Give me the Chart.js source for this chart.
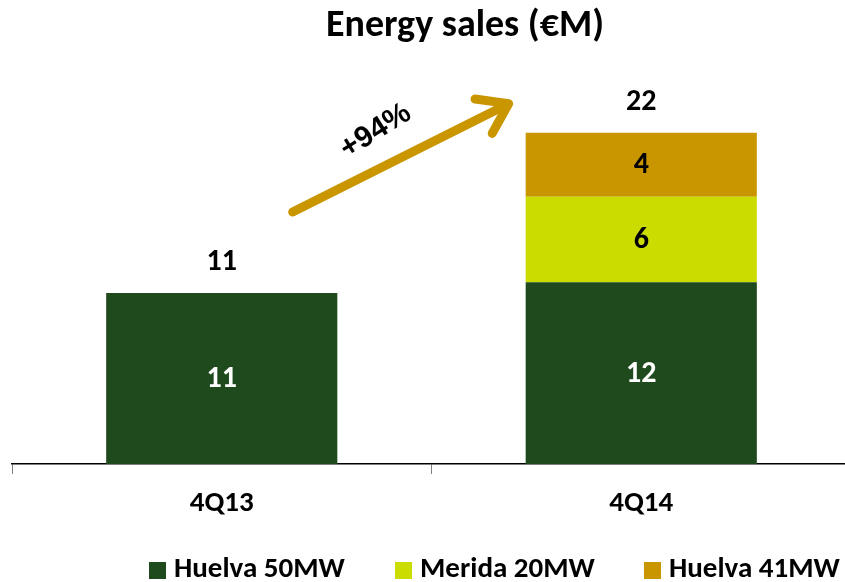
<!DOCTYPE html>
<html>
<head>
<meta charset="utf-8">
<script src="https://cdn.jsdelivr.net/npm/chart.js@4/dist/chart.umd.min.js"></script>
<style>
  html, body { margin: 0; padding: 0; background: #ffffff; overflow: hidden; }
  #wrap { width: 845px; height: 582px; overflow: hidden; position: relative; }
  canvas { display: block; }
</style>
</head>
<body>
<div id="wrap"><canvas id="c" width="857" height="582"></canvas></div>
<script>
// ---- data ----
const categories = ['4Q13', '4Q14'];
const seriesNames = ['Huelva 50MW', 'Merida 20MW', 'Huelva 41MW'];
const huelva50 = [11.2, 11.9];
const merida20 = [0, 5.6];
const huelva41 = [0, 4.2];
const titleText = 'Energy sales (€M)';
const growthLabel = '+94%';
const yMax = 26;

const colors = ['#1F4A1D', '#CBDC00', '#C99600'];
const labelColors = ['#ffffff', '#000000', '#000000'];
const FONT = "Carlito, Lato, 'Liberation Sans', sans-serif";

const overlay = {
  id: 'overlay',
  afterDatasetsDraw(chart) {
    const ctx = chart.ctx;
    const xs = chart.scales.x, ys = chart.scales.y;
    ctx.save();
    // segment labels
    ctx.textAlign = 'center';
    ctx.textBaseline = 'middle';
    ctx.font = "bold 30px " + FONT;
    chart.data.datasets.forEach((ds, di) => {
      const meta = chart.getDatasetMeta(di);
      meta.data.forEach((bar, i) => {
        const v = ds.data[i];
        if (!v) return;
        ctx.fillStyle = labelColors[di];
        ctx.fillText(String(Math.round(v)), bar.x, (bar.y + bar.base) / 2 + 1);
      });
    });
    // totals
    categories.forEach((c, i) => {
      let total = 0;
      chart.data.datasets.forEach(ds => total += (ds.data[i] || 0));
      ctx.fillStyle = '#000000';
      ctx.fillText(String(Math.round(total)), xs.getPixelForValue(i), ys.getPixelForValue(total) - 30);
    });
    // growth arrow (positioned in scale units)
    const tx = xs.getPixelForValue(0.169), ty = ys.getPixelForValue(16.5);
    const hx = xs.getPixelForValue(0.684), hy = ys.getPixelForValue(23.6);
    const ang = Math.atan2(hy - ty, hx - tx);
    ctx.strokeStyle = '#C99600';
    ctx.lineWidth = 9;
    ctx.lineCap = 'round';
    ctx.lineJoin = 'round';
    ctx.beginPath();
    ctx.moveTo(tx, ty);
    ctx.lineTo(hx - 4 * Math.cos(ang), hy - 4 * Math.sin(ang));
    ctx.stroke();
    const wing = 34, spread = 0.6;
    ctx.beginPath();
    ctx.moveTo(hx - wing * Math.cos(ang - spread), hy - wing * Math.sin(ang - spread));
    ctx.lineTo(hx, hy);
    ctx.lineTo(hx - wing * Math.cos(ang + spread), hy - wing * Math.sin(ang + spread));
    ctx.stroke();
    // growth label
    ctx.save();
    ctx.translate(xs.getPixelForValue(0.367), ys.getPixelForValue(21.8));
    ctx.rotate(-32 * Math.PI / 180);
    ctx.font = "bold 30px 'Liberation Sans', Arial, sans-serif";
    ctx.fillStyle = '#000000';
    ctx.fillText(growthLabel, 0, 0);
    ctx.restore();
    ctx.restore();
  },
  afterDraw(chart) {
    const ctx = chart.ctx;
    ctx.save();
    // title
    ctx.fillStyle = '#000000';
    ctx.font = "bold 38px " + FONT;
    ctx.textAlign = 'center';
    ctx.textBaseline = 'middle';
    ctx.fillText(titleText, 465, 26);
    // legend
    const starts = [149, 395, 644];
    ctx.font = "bold 29px " + FONT;
    ctx.textAlign = 'left';
    chart.data.datasets.forEach((ds, di) => {
      const x = starts[di];
      ctx.fillStyle = ds.backgroundColor;
      ctx.fillRect(x, 562, 17, 17);
      ctx.fillStyle = '#000000';
      ctx.fillText(ds.label, x + 25, 570);
    });
    ctx.restore();
  }
};

new Chart(document.getElementById('c'), {
  type: 'bar',
  data: {
    labels: categories,
    datasets: [
      { label: seriesNames[0], data: huelva50, backgroundColor: colors[0] },
      { label: seriesNames[1], data: merida20, backgroundColor: colors[1] },
      { label: seriesNames[2], data: huelva41, backgroundColor: colors[2] }
    ]
  },
  options: {
    responsive: false,
    animation: false,
    devicePixelRatio: 1,
    layout: { padding: { left: 12, right: 6, top: 67, bottom: 0 } },
    datasets: { bar: { barPercentage: 0.551, categoryPercentage: 1 } },
    plugins: { legend: { display: false }, title: { display: false }, tooltip: { enabled: false } },
    scales: {
      x: {
        stacked: true,
        afterFit: (s) => { s.height = 118; },
        grid: { offset: true, drawOnChartArea: false, tickLength: 10, color: '#808080', lineWidth: 1 },
        border: { display: true, color: '#000000', width: 1.5 },
        ticks: { color: '#000000', font: { family: FONT, size: 29, weight: 'bold' }, padding: 12 }
      },
      y: {
        stacked: true,
        display: false,
        min: 0,
        max: yMax
      }
    }
  },
  plugins: [overlay]
});
</script>
</body>
</html>
